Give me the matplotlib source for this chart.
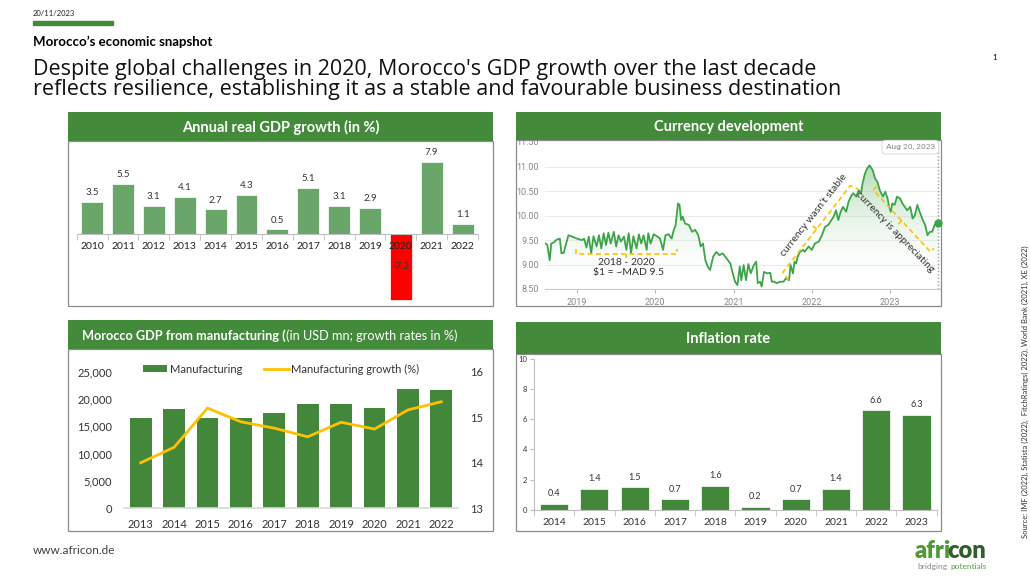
import numpy as np
import matplotlib
matplotlib.use('Agg')
import matplotlib.pyplot as plt
from matplotlib.patches import Rectangle, Patch
from matplotlib.lines import Line2D
from matplotlib.colors import LinearSegmentedColormap
from matplotlib.ticker import FuncFormatter

plt.rcParams['font.family'] = ['Lato', 'DejaVu Sans']

W, H = 1030, 582
HEAD = '#438A3B'
DARK_GREEN = '#43873B'
LIGHT_GREEN = '#6AA56A'
GOLD = '#FFC000'
LINE_GREEN = '#3DA549'

# ---- data ----
gdp_years = ['2010', '2011', '2012', '2013', '2014', '2015', '2016',
             '2017', '2018', '2019', '2020', '2021', '2022']
gdp_growth = [3.5, 5.5, 3.1, 4.1, 2.7, 4.3, 0.5, 5.1, 3.1, 2.9, -7.2, 7.9, 1.1]

# USD/MAD (time in fractional years)
fx_time = [2018.60, 2018.62, 2018.65, 2018.67, 2018.70, 2018.74, 2018.78, 2018.80,
           2018.83, 2018.86, 2018.89, 2018.94, 2019.00, 2019.06, 2019.09, 2019.12,
           2019.15, 2019.18, 2019.21, 2019.25, 2019.28, 2019.31, 2019.34, 2019.37,
           2019.40, 2019.43, 2019.47, 2019.50, 2019.53, 2019.56, 2019.60, 2019.63,
           2019.66, 2019.69, 2019.72, 2019.76, 2019.79, 2019.82, 2019.85, 2019.89,
           2019.91, 2019.94, 2019.98, 2020.02, 2020.06, 2020.10, 2020.13, 2020.17,
           2020.21, 2020.23, 2020.26, 2020.29, 2020.31, 2020.33, 2020.35, 2020.38,
           2020.43, 2020.47, 2020.51, 2020.55, 2020.58, 2020.61, 2020.64, 2020.67,
           2020.70, 2020.74, 2020.78, 2020.82, 2020.86, 2020.91, 2020.96, 2020.99,
           2021.02, 2021.05, 2021.08, 2021.10, 2021.13, 2021.16, 2021.19, 2021.22,
           2021.26, 2021.29, 2021.31, 2021.34, 2021.36, 2021.39, 2021.43, 2021.47,
           2021.49, 2021.52, 2021.55, 2021.60, 2021.64, 2021.67, 2021.71, 2021.73,
           2021.76, 2021.78, 2021.80, 2021.82, 2021.85, 2021.89, 2021.91, 2021.96,
           2022.00, 2022.04, 2022.09, 2022.13, 2022.17, 2022.21, 2022.24, 2022.28,
           2022.31, 2022.34, 2022.37, 2022.40, 2022.44, 2022.47, 2022.50, 2022.53,
           2022.57, 2022.60, 2022.63, 2022.65, 2022.68, 2022.71, 2022.74, 2022.78,
           2022.81, 2022.84, 2022.87, 2022.91, 2022.94, 2022.97, 2022.99, 2023.01,
           2023.03, 2023.06, 2023.09, 2023.13, 2023.16, 2023.19, 2023.22, 2023.26,
           2023.29, 2023.32, 2023.35, 2023.38, 2023.42, 2023.45, 2023.48, 2023.51,
           2023.54, 2023.57, 2023.62]
fx_rate = [9.43, 9.40, 9.09, 9.43, 9.45, 9.51, 9.53, 9.23,
           9.24, 9.43, 9.60, 9.57, 9.53, 9.50, 9.53, 9.35,
           9.57, 9.23, 9.58, 9.37, 9.60, 9.33, 9.64, 9.40,
           9.65, 9.43, 9.67, 9.37, 9.60, 9.47, 9.57, 9.30,
           9.64, 9.23, 9.58, 9.33, 9.62, 9.43, 9.60, 9.30,
           9.64, 9.43, 9.62, 9.58, 9.53, 9.30, 9.60, 9.62,
           9.53, 9.67, 9.81, 10.25, 10.22, 9.91, 9.98, 9.84,
           9.81, 9.67, 9.71, 9.60, 9.37, 9.43, 9.09, 8.96,
           8.89, 9.16, 9.26, 9.19, 9.23, 9.13, 9.02, 8.82,
           8.65, 8.58, 8.96, 8.68, 8.99, 8.68, 9.01, 8.82,
           8.99, 9.06, 8.62, 8.65, 8.55, 8.85, 8.82, 8.83,
           8.65, 8.65, 8.62, 8.65, 8.65, 8.72, 8.68, 8.99,
           8.82, 9.06, 9.02, 9.16, 9.26, 9.30, 9.26, 9.37,
           9.30, 9.43, 9.47, 9.60, 9.77, 9.81, 9.88, 9.98,
           10.11, 9.91, 10.08, 10.18, 10.08, 10.28, 10.39, 10.46,
           10.39, 10.52, 10.46, 10.66, 10.86, 10.97, 11.03, 10.93,
           10.76, 10.69, 10.52, 10.39, 10.49, 10.35, 10.18, 10.08,
           10.25, 10.22, 10.39, 10.35, 10.25, 10.18, 10.11, 10.18,
           9.94, 10.01, 10.22, 10.08, 9.91, 9.81, 9.60, 9.67,
           9.67, 9.81, 9.84]
fx_years = [2019, 2020, 2021, 2022, 2023]

mfg_years = ['2013', '2014', '2015', '2016', '2017', '2018', '2019', '2020', '2021', '2022']
mfg_value = [16600, 18100, 16500, 16500, 17400, 19000, 19000, 18400, 21900, 21600]
mfg_growth = [14.0, 14.34, 15.2, 14.9, 14.76, 14.57, 14.89, 14.74, 15.16, 15.34]

infl_years = ['2014', '2015', '2016', '2017', '2018', '2019', '2020', '2021', '2022', '2023']
infl_rate = [0.4, 1.4, 1.5, 0.7, 1.6, 0.2, 0.7, 1.4, 6.6, 6.3]


def box(x0, y0, x1, y1):
  # pixel box (top-left origin) -> figure fraction rect
  return [x0 / W, 1 - y1 / H, (x1 - x0) / W, (y1 - y0) / H]


fig = plt.figure(figsize=(W / 100, H / 100), dpi=100)
renderer = fig.canvas.get_renderer()
bg = fig.add_axes([0, 0, 1, 1])
bg.set_xlim(0, W)
bg.set_ylim(H, 0)
bg.axis('off')


def right_edge(t):
  bb = t.get_window_extent(renderer=renderer)
  return bg.transData.inverted().transform((bb.x1, bb.y0))[0]


def panel(x0, x1, y_top, y_mid, y_bot, title=None, size=10.5):
  bg.add_patch(Rectangle((x0, y_mid), x1 - x0, y_bot - y_mid, facecolor='white',
                         edgecolor='#8a8a8a', lw=0.9, zorder=1))
  bg.add_patch(Rectangle((x0, y_top), x1 - x0, y_mid - y_top, facecolor=HEAD,
                         edgecolor='none', zorder=3))
  if title:
    bg.text((x0 + x1) / 2, (y_top + y_mid) / 2 + 1, title, color='white', fontsize=size,
            fontweight='bold', ha='center', va='center', zorder=4)


# ---- page texts ----
bg.text(33, 13, '20/11/2023', fontsize=5.5, va='center', color='#222')
bg.add_patch(Rectangle((33, 21), 80, 4, color=HEAD))
bg.text(33, 42, 'Morocco\u2019s economic snapshot', fontsize=9.5, fontweight='bold', va='center')
bg.text(33, 69, "Despite global challenges in 2020, Morocco's GDP growth over the last decade",
        fontsize=15.5, va='center', family=['Open Sans', 'DejaVu Sans'], color='#111')
bg.text(33, 89, 'reflects resilience, establishing it as a stable and favourable business destination',
        fontsize=15.5, va='center', family=['Open Sans', 'DejaVu Sans'], color='#111')
bg.text(995, 57, '1', fontsize=5.5, ha='center', va='center')
bg.text(1025, 392, 'Source: IMF (2022), Statista (2022),  FitchRatings( 2022), World Bank (2021), XE (2022)',
        rotation=90, fontsize=5.5, ha='center', va='center', color='#333')
bg.text(33, 551, 'www.africon.de', fontsize=8.5, va='center', color='#404040')
# logo in two tones
t = bg.text(915, 551, 'afri', fontsize=17, fontweight='heavy', va='center', color='#4E9A35')
bg.text(right_edge(t) - 3.5, 551, 'con', fontsize=17, fontweight='heavy', va='center', color='#2F5F2A')
t = bg.text(917, 566, 'bridging', fontsize=6, va='center', color='#8a8a8a')
bg.text(right_edge(t) + 3, 566, 'potentials', fontsize=6, va='center', color='#5A9C3A')

# ---- panel frames ----
panel(68, 493, 112, 141, 306, 'Annual real GDP growth (in %)')
panel(516, 941, 112, 140, 306, 'Currency development')
panel(68, 493, 320, 349, 531)
panel(516, 941, 322, 354, 531, 'Inflation rate')
t = bg.text(82, 335.5, 'Morocco GDP from manufacturing (', fontsize=9.2, fontweight='bold',
            color='white', va='center', zorder=4)
bg.text(right_edge(t), 335.5, '(in USD mn; growth rates in %)', fontsize=9.2,
        color='white', va='center', zorder=4)
# top tick label of the xe chart, half hidden under the header
bg.text(539, 142.5, '11.50', fontsize=6.5, color='#888', ha='right', va='center',
        family=['Roboto', 'DejaVu Sans'], zorder=2)

# ---- annual GDP growth ----
ax1 = fig.add_axes(box(76.7, 141, 478, 306))
ax1.set_facecolor('none')
x1 = np.arange(len(gdp_years))
cols = ['#FF0000' if v < 0 else LIGHT_GREEN for v in gdp_growth]
ax1.bar(x1, gdp_growth, width=0.71, color=cols, edgecolor='white', lw=0.5)
for xi, v in zip(x1, gdp_growth):
  if v < 0:
    ax1.text(xi, v / 2, f'{v:.1f}', ha='center', va='center', fontsize=7, color='#333')
  else:
    ax1.annotate(f'{v:.1f}', (xi, v), xytext=(0, 3.5), textcoords='offset points',
                 ha='center', va='bottom', fontsize=7, color='#333')
ax1.set_xlim(-0.5, 12.5)
ax1.set_ylim(-7.91, 10.22)
for s in ['top', 'right', 'left']:
  ax1.spines[s].set_visible(False)
ax1.spines['bottom'].set_position(('data', 0))
ax1.spines['bottom'].set_color('#bfbfbf')
ax1.set_yticks([])
ax1.set_xticks(x1)
ax1.set_xticklabels(gdp_years)
ax1.set_xticks(np.arange(-0.5, 13, 1), minor=True)
ax1.tick_params(axis='x', which='major', length=0, pad=5.5, labelsize=7.5, labelcolor='#222')
ax1.tick_params(axis='x', which='minor', length=4, color='#bfbfbf')

# ---- currency development ----
ax2 = fig.add_axes(box(545, 141, 940, 289))
ax2.set_facecolor('none')
grad = np.linspace(0, 1, 256).reshape(-1, 1)
cmap = LinearSegmentedColormap.from_list('fade', [(1, 1, 1, 0), (0.24, 0.65, 0.29, 0.42)])
im = ax2.imshow(grad, extent=[fx_time[0], fx_time[-1], 8.5, 11.1], origin='lower',
                cmap=cmap, aspect='auto', zorder=1)
poly = ax2.fill_between(fx_time, fx_rate, 8.5, color='none')
im.set_clip_path(poly.get_paths()[0], transform=ax2.transData)
ax2.plot(fx_time, fx_rate, color=LINE_GREEN, lw=1.3, zorder=3)
ax2.axvline(fx_time[-1], color='#9a9a9a', ls=(0, (1, 1.5)), lw=1, zorder=2)
ax2.plot(fx_time[-1], fx_rate[-1], 'o', color=LINE_GREEN, ms=5, clip_on=False, zorder=4)
ax2.set_xlim(2018.59, 2023.64)
ax2.set_ylim(8.5, 11.527)
ax2.set_yticks([8.5, 9.0, 9.5, 10.0, 10.5, 11.0])
ax2.yaxis.set_major_formatter(FuncFormatter(lambda v, p: f'{v:.2f}'))
ax2.set_xticks(fx_years)
ax2.set_xticklabels([str(y) for y in fx_years])
ax2.grid(axis='y', color='#ececec', lw=0.8)
ax2.set_axisbelow(True)
for s in ['top', 'right', 'left']:
  ax2.spines[s].set_visible(False)
ax2.spines['bottom'].set_color('#cccccc')
ax2.tick_params(axis='y', length=0, pad=4.5, labelsize=6.5, labelcolor='#888')
ax2.tick_params(axis='x', length=3, color='#bbbbbb', pad=3.5, labelsize=6.5, labelcolor='#888')
for lab in ax2.get_xticklabels() + ax2.get_yticklabels():
  lab.set_family(['Roboto', 'DejaVu Sans'])

ann = dict(color=GOLD, lw=1.2, ls=(0, (3, 2)), zorder=5)
ax2.plot([2018.98, 2018.98, 2020.28, 2020.28], [9.32, 9.21, 9.21, 9.32], **ann)
ax2.plot([2019.63, 2019.63], [9.21, 9.14], **ann)
ax2.text(2019.63, 9.05, '2018 - 2020', fontsize=7.5, ha='center', va='center', color='#333')
ax2.text(2019.66, 8.83, '$1 = ~MAD 9.5', fontsize=7.5, ha='center', va='center', color='#333')
ax2.plot([2021.703, 2021.632, 2022.493, 2022.595], [8.684, 8.842, 10.612, 10.545], **ann)
ax2.plot([2022.063, 2022.012], [9.727, 9.79], **ann)
ax2.text(2022.024, 10.013, 'currency wasn\u2019t stable', fontsize=7.5, rotation=52,
         rotation_mode='anchor', ha='center', va='center', color='#333', zorder=6)
ax2.plot([2022.834, 2022.787, 2023.516, 2023.564], [10.594, 10.525, 9.263, 9.332], **ann)
ax2.plot([2023.152, 2023.105], [9.894, 9.825], **ann)
ax2.text(2023.069, 9.66, 'currency is appreciating', fontsize=7.5, rotation=-46,
         rotation_mode='anchor', ha='center', va='center', color='#333', zorder=6)
ax2.text(2023.26, 11.40, 'Aug 20, 2023', fontsize=6, color='#888', ha='center', va='center',
         family=['Roboto', 'DejaVu Sans'], zorder=7,
         bbox=dict(boxstyle='round,pad=0.45', fc='white', ec='#dddddd', lw=0.8))

# ---- manufacturing ----
ax3 = fig.add_axes(box(124, 371.7, 458, 508.3))
ax3.set_facecolor('none')
x3 = np.arange(len(mfg_years))
ax3.bar(x3, mfg_value, width=0.65, color=DARK_GREEN)
ax3.set_xlim(-0.5, 9.5)
ax3.set_ylim(0, 25000)
ax3.set_yticks(range(0, 25001, 5000))
ax3.yaxis.set_major_formatter(FuncFormatter(lambda v, p: f'{int(v):,}'))
ax3.set_xticks(x3)
ax3.set_xticklabels(mfg_years)
for s in ['top', 'right', 'left']:
  ax3.spines[s].set_visible(False)
ax3.spines['bottom'].set_color('#d9d9d9')
ax3.spines['bottom'].set_linewidth(1.2)
ax3.tick_params(axis='y', length=0, pad=8.5, labelsize=8, labelcolor='#333')
ax3.tick_params(axis='x', length=0, pad=8, labelsize=8, labelcolor='#333')
ax3b = ax3.twinx()
ax3b.plot(x3, mfg_growth, color=GOLD, lw=2)
ax3b.set_ylim(13, 16)
ax3b.set_yticks([13, 14, 15, 16])
for s in ['top', 'right', 'left', 'bottom']:
  ax3b.spines[s].set_visible(False)
ax3b.tick_params(axis='y', length=0, pad=8.5, labelsize=8, labelcolor='#333')
handles = [Patch(facecolor=DARK_GREEN), Line2D([], [], color=GOLD, lw=2)]
fig.legend(handles, ['Manufacturing', 'Manufacturing growth (%)'], loc='center',
           bbox_to_anchor=(281 / W, 1 - 369 / H), ncol=2, frameon=False, fontsize=8,
           handlelength=2.2, handleheight=0.6, handletextpad=0.2, columnspacing=2.0,
           labelcolor='#333')

# ---- inflation ----
ax4 = fig.add_axes(box(534, 358.7, 936.7, 510))
ax4.set_facecolor('none')
x4 = np.arange(len(infl_years))
ax4.bar(x4, infl_rate, width=0.7, color=DARK_GREEN, edgecolor='white', lw=0.5)
for xi, v in zip(x4, infl_rate):
  ax4.annotate(f'{v:.1f}', (xi, v), xytext=(0, 4), textcoords='offset points',
               ha='center', va='bottom', fontsize=6.5, color='#333')
ax4.set_xlim(-0.5, 9.5)
ax4.set_ylim(0, 10)
ax4.set_yticks(range(0, 11, 2))
ax4.set_xticks(x4)
ax4.set_xticklabels(infl_years)
ax4.set_xticks(np.arange(-0.5, 10, 1), minor=True)
for s in ['top', 'right']:
  ax4.spines[s].set_visible(False)
ax4.spines['left'].set_color('#bfbfbf')
ax4.spines['bottom'].set_color('#bfbfbf')
ax4.tick_params(axis='y', length=3, color='#bfbfbf', pad=2, labelsize=5.5, labelcolor='#333')
ax4.tick_params(axis='x', which='major', length=0, pad=6, labelsize=7.5, labelcolor='#333')
ax4.tick_params(axis='x', which='minor', length=4, color='#bfbfbf')

fig.savefig('out.png', dpi=100)
